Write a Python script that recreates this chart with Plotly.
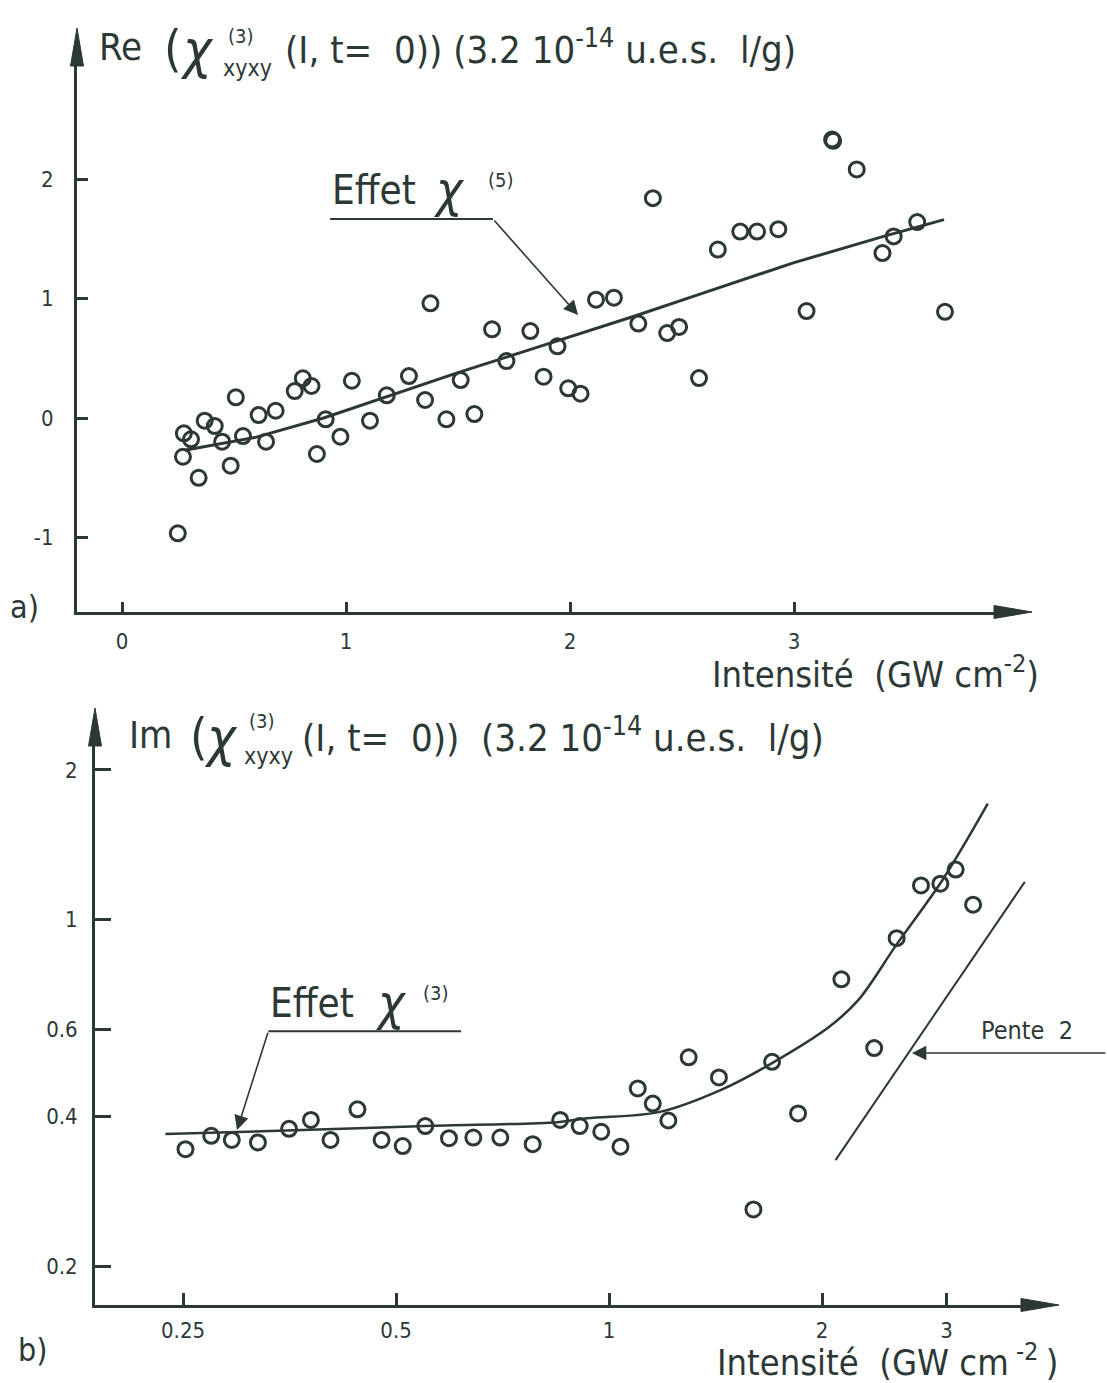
import numpy as np
import plotly.graph_objects as go

W, H = 1107, 1383
INK = '#2c3836'
FONT = 'DejaVu Sans Condensed, Liberation Sans Narrow, DejaVu Sans, sans-serif'

# ---------------- Panel a : Re(chi3) vs intensity (linear) ----------------
re_x = [0.249, 0.276, 0.308, 0.272, 0.342, 0.369, 0.414, 0.447, 0.485, 0.508,
        0.540, 0.610, 0.643, 0.686, 0.771, 0.807, 0.846, 0.870, 0.909, 0.975,
        1.026, 1.107, 1.182, 1.281, 1.353, 1.377, 1.448, 1.512, 1.573, 1.652,
        1.716, 1.823, 1.882, 1.944, 1.992, 2.047, 2.116, 2.196, 2.305, 2.37,
        2.434, 2.487, 2.576, 2.66, 2.76, 2.835, 2.93, 3.056, 3.17, 3.175,
        3.28, 3.395, 3.445, 3.55, 3.674]
re_y = [-0.965, -0.128, -0.178, -0.324, -0.500, -0.022, -0.067, -0.198, -0.399, 0.173,
        -0.151, 0.025, -0.198, 0.061, 0.226, 0.332, 0.268, -0.301, -0.011, -0.156,
        0.312, -0.022, 0.190, 0.351, 0.151, 0.960, -0.011, 0.318, 0.033, 0.742,
        0.477, 0.728, 0.346, 0.600, 0.249, 0.204, 0.990, 1.007, 0.790, 1.840,
        0.711, 0.762, 0.334, 1.410, 1.560, 1.560, 1.580, 0.895, 2.330, 2.320,
        2.080, 1.380, 1.520, 1.640, 0.889]
re_fit_x = [0.28, 0.60, 0.90, 1.20, 1.50, 1.80, 2.00, 2.30, 2.60, 3.00, 3.40, 3.67]
re_fit_y = [-0.27, -0.16, 0.00, 0.19, 0.38, 0.56, 0.68, 0.86, 1.05, 1.30, 1.52, 1.66]
re_xticks = [0, 1, 2, 3]
re_yticks = [-1, 0, 1, 2]
re_ytick_text = ['-1', '0', '1', '2']

# ---------------- Panel b : Im(chi3) vs intensity (log-log) ----------------
im_x = [0.252, 0.274, 0.293, 0.319, 0.353, 0.379, 0.404, 0.441, 0.477, 0.511,
        0.550, 0.594, 0.643, 0.702, 0.780, 0.853, 0.909, 0.975, 1.038, 1.098,
        1.153, 1.213, 1.296, 1.43, 1.60, 1.70, 1.85, 2.13, 2.37, 2.55,
        2.76, 2.94, 3.09, 3.27]
im_y = [0.344, 0.366, 0.359, 0.355, 0.378, 0.394, 0.359, 0.414, 0.359, 0.349,
        0.383, 0.362, 0.363, 0.363, 0.352, 0.394, 0.383, 0.373, 0.348, 0.456,
        0.425, 0.393, 0.527, 0.480, 0.260, 0.516, 0.406, 0.757, 0.550, 0.916,
        1.170, 1.180, 1.260, 1.070]
im_fit_x = [0.236, 0.35, 0.55, 0.845, 0.93, 1.18, 1.44, 1.70, 2.05, 2.25, 2.55, 2.96, 3.43]
im_fit_y = [0.369, 0.375, 0.383, 0.390, 0.397, 0.409, 0.453, 0.513, 0.608, 0.687, 0.890, 1.200, 1.710]
pente_x = [2.09, 3.87]
pente_y = [0.327, 1.19]
im_xticks = [0.25, 0.5, 1, 2, 3]
im_xtick_text = ['0.25', '0.5', '1', '2', '3']
im_yticks = [0.2, 0.4, 0.6, 1, 2]
im_ytick_text = ['0.2', '0.4', '0.6', '1', '2']


def P(px, py):
    """pixel -> paper coordinates"""
    return px / W, 1 - py / H


fig = go.Figure()

mk = dict(symbol='circle-open', size=15, color=INK, line=dict(width=3, color=INK))

fig.add_trace(go.Scatter(x=re_fit_x, y=re_fit_y, mode='lines',
                         line=dict(color=INK, width=3), xaxis='x', yaxis='y'))
fig.add_trace(go.Scatter(x=re_x, y=re_y, mode='markers', marker=mk, xaxis='x', yaxis='y'))

fig.add_trace(go.Scatter(x=im_fit_x, y=im_fit_y, mode='lines',
                         line=dict(color=INK, width=2.5, shape='spline'), xaxis='x2', yaxis='y2'))
fig.add_trace(go.Scatter(x=pente_x, y=pente_y, mode='lines',
                         line=dict(color=INK, width=2), xaxis='x2', yaxis='y2'))
fig.add_trace(go.Scatter(x=im_x, y=im_y, mode='markers', marker=mk, xaxis='x2', yaxis='y2'))

# label leader lines
fig.add_trace(go.Scatter(x=[0.929, 1.656], y=[1.665, 1.665], mode='lines',
                         line=dict(color=INK, width=2), xaxis='x', yaxis='y'))
fig.add_trace(go.Scatter(x=[0.330, 0.618], y=[0.595, 0.595], mode='lines',
                         line=dict(color=INK, width=2), xaxis='x2', yaxis='y2'))

axcommon = dict(showline=True, linewidth=3, linecolor=INK, ticks='inside',
                tickwidth=3, tickcolor=INK, showgrid=False, zeroline=False,
                tickfont=dict(family=FONT, size=22, color=INK))

ax_x0, ax_y0 = P(77, 612)
ax_x1, ax_y1 = P(1010, 50)
bx_x0, bx_y0 = P(95, 1305)
bx_x1, bx_y1 = P(1035, 728)

fig.update_layout(
    width=W, height=H, margin=dict(l=0, r=0, t=0, b=0),
    paper_bgcolor='white', plot_bgcolor='white', showlegend=False,
    xaxis=dict(domain=[ax_x0, ax_x1], range=[-0.201, (1010 - 122) / 224], anchor='y',
               tickvals=re_xticks, ticktext=[str(v) for v in re_xticks],
               ticklen=10, ticklabelstandoff=8, **axcommon),
    yaxis=dict(domain=[ax_y0, ax_y1], range=[-1.623, (418 - 50) / 119.5], anchor='x',
               tickvals=re_yticks, ticktext=re_ytick_text,
               ticklen=11, ticklabelstandoff=16, **axcommon),
    xaxis2=dict(domain=[bx_x0, bx_x1], type='log',
                range=[-0.7265, np.log10(0.25) + (1035 - 183) / 213 * np.log10(2)], anchor='y2',
                tickvals=im_xticks, ticktext=im_xtick_text,
                ticklen=12, ticklabelstandoff=4, **axcommon),
    yaxis2=dict(domain=[bx_y0, bx_y1], type='log',
                range=[-0.7776, 0.301 - (728 - 770) / 496], anchor='x2',
                tickvals=im_yticks, ticktext=im_ytick_text,
                ticklen=16, ticklabelstandoff=10, **axcommon),
)

# narrow filled arrowheads at the axis ends (paper coordinates)
shapes = []


def arrowhead(tip, base, half):
    (tx, ty), (bx, by) = tip, base
    dx, dy = tx - bx, ty - by
    n = np.hypot(dx, dy)
    nx, ny = -dy / n * half, dx / n * half
    pts = [P(tx, ty), P(bx + nx, by + ny), P(bx - nx, by - ny)]
    path = 'M {:.5f},{:.5f} L {:.5f},{:.5f} L {:.5f},{:.5f} Z'.format(
        pts[0][0], pts[0][1], pts[1][0], pts[1][1], pts[2][0], pts[2][1])
    shapes.append(dict(type='path', xref='paper', yref='paper', path=path,
                       fillcolor=INK, line=dict(color=INK, width=1)))


arrowhead((77, 28), (77, 66), 6.5)
arrowhead((1032, 612), (994, 612), 6.5)
arrowhead((95, 708), (95, 746), 6.5)
arrowhead((1059, 1305), (1021, 1305), 6.5)

ann = []


def text(px, py, s, size, xanchor='left', italic=False):
    x, y = P(px, py)
    if italic:
        s = '<i>' + s + '</i>'
    ann.append(dict(x=x, y=y, xref='paper', yref='paper', text=s, showarrow=False,
                    xanchor=xanchor, yanchor='middle',
                    font=dict(family=FONT, size=size, color=INK)))


# Titles
text(97, 47, 'Re', 38)
text(162, 49, '(', 50)
text(178, 50, 'χ', 54, italic=True)
text(226, 36, '(3)', 20)
text(221, 68, 'xyxy', 23)
text(283, 47, '(I, t=  0)) (3.2 10<sup>-14</sup> u.e.s.  l/g)', 38)

text(127, 735, 'Im', 38)
text(188, 737, '(', 50)
text(202, 738, 'χ', 54, italic=True)
text(247, 721, '(3)', 20)
text(242, 756, 'xyxy', 23)
text(300, 735, '(I, t=  0))  (3.2 10<sup>-14</sup> u.e.s.  l/g)', 38)

# Effet labels
text(330, 190, 'Effet', 40)
text(432, 190, 'χ', 50, italic=True)
text(486, 180, '(5)', 20)
text(268, 1003, 'Effet', 40)
text(374, 1003, 'χ', 50, italic=True)
text(421, 993, '(3)', 20)

text(979, 1030, 'Pente  2', 25)

text(8, 607, 'a)', 32)
text(16, 1350, 'b)', 32)

text(710, 672, 'Intensité  (GW cm<sup>-2</sup>)', 36)
text(715, 1360, 'Intensité  (GW cm<sup> -2 </sup>)', 36)

# leader arrows (data coordinates)
ann.append(dict(x=2.036, y=0.862, xref='x', yref='y', axref='x', ayref='y',
                ax=1.656, ay=1.665, text='', showarrow=True, arrowhead=2,
                arrowsize=1.8, arrowwidth=1.6, arrowcolor=INK, standoff=0))
ann.append(dict(x=np.log10(0.298), y=np.log10(0.376), xref='x2', yref='y2',
                axref='x2', ayref='y2', ax=np.log10(0.330), ay=np.log10(0.595),
                text='', showarrow=True, arrowhead=2, arrowsize=1.8, arrowwidth=1.6,
                arrowcolor=INK, standoff=0))
ann.append(dict(x=np.log10(2.68), y=np.log10(0.5376), xref='x2', yref='y2',
                ax=195, ay=0, text='', showarrow=True, arrowhead=2, arrowsize=1.8,
                arrowwidth=1.6, arrowcolor=INK, standoff=0))

fig.update_layout(annotations=ann, shapes=shapes)

fig.write_html('out.html')
